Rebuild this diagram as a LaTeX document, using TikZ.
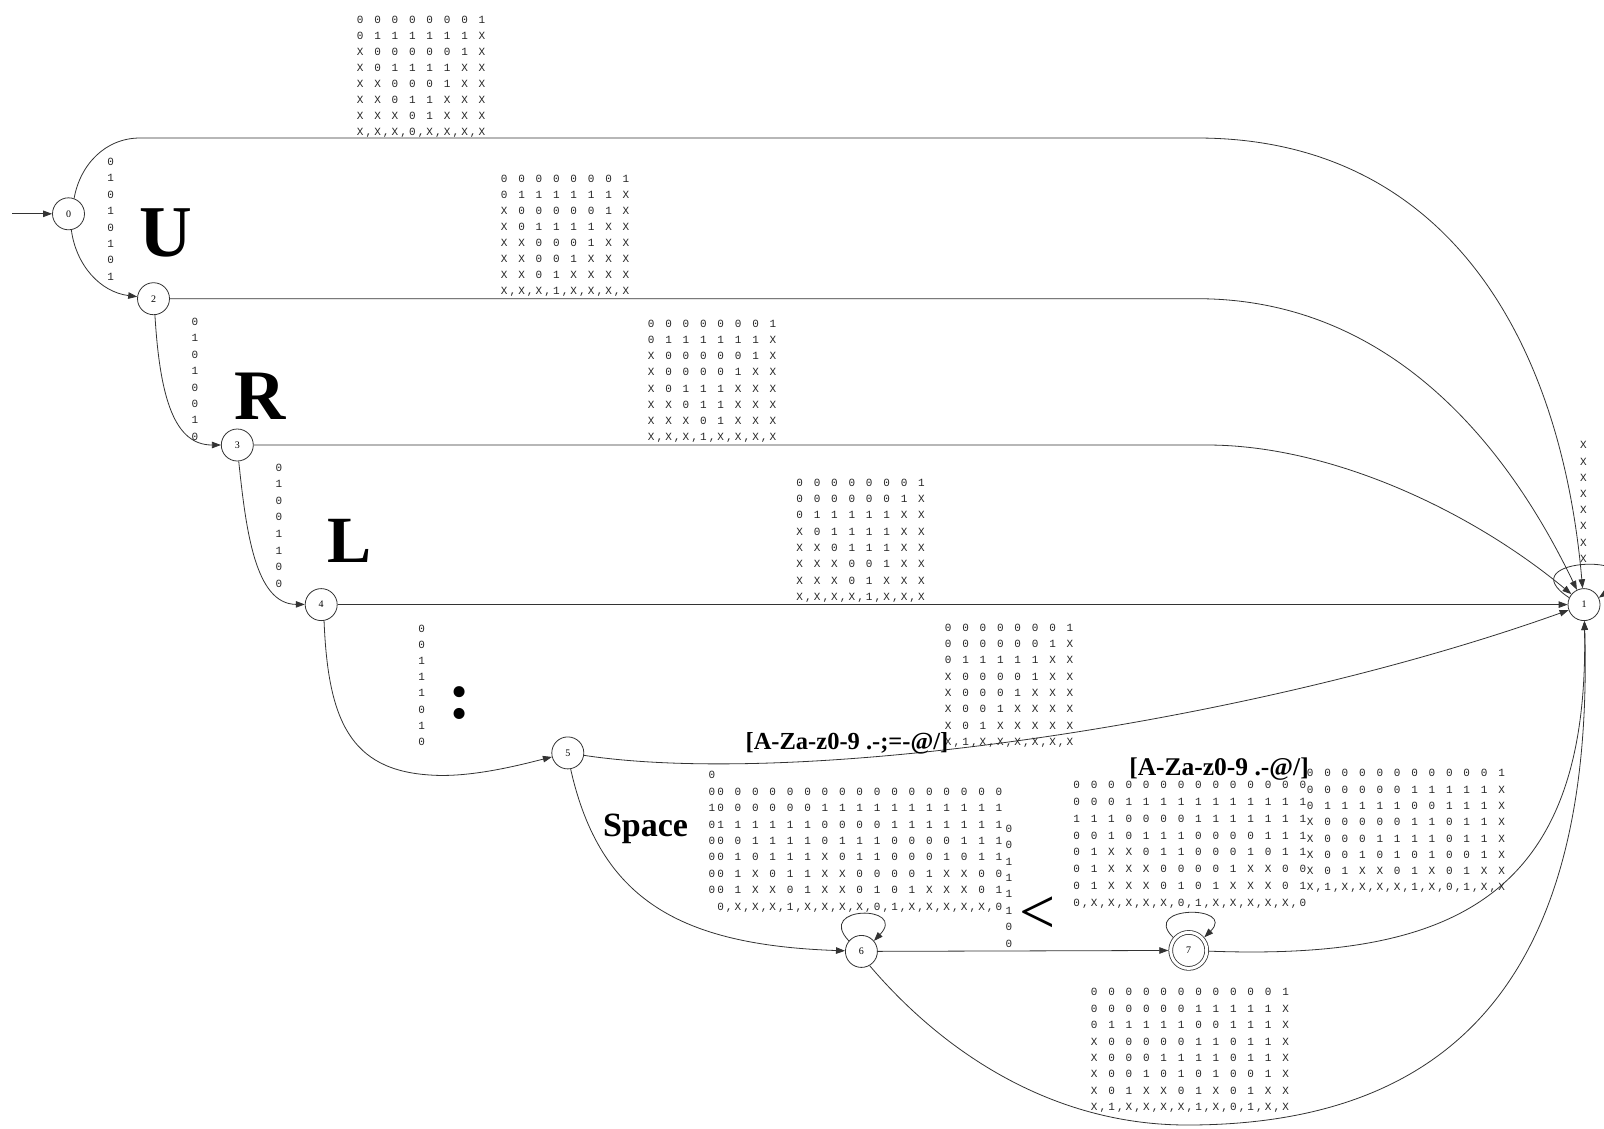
\documentclass[tikz,border=0pt]{standalone}
\usepackage{fontspec}
\setmainfont{Liberation Serif}
\newfontfamily\bitfont{Liberation Mono}
\usetikzlibrary{arrows.meta}

% one character cell of the bit tables
\newlength\bitcell
\setlength\bitcell{8.7pt}
\makeatletter
% spaced row: each symbol followed by an empty cell
\newcommand\brow[1]{\@tfor\bch:=#1\do{\makebox[\bitcell]{\bch}\hspace*{\bitcell}}}
% packed row: one symbol per cell
\newcommand\crow[1]{\@tfor\bch:=#1\do{\makebox[\bitcell]{\bch}}}
\makeatother
\newcommand\bittab[1]{\begin{tabular}[t]{@{}l@{}}#1\end{tabular}}
\newcommand\bitcol[1]{\begin{tabular}[t]{@{}c@{}}#1\end{tabular}}

\tikzset{
  state/.style={circle, draw=black!80, line width=0.8pt, minimum size=32pt,
    inner sep=0pt, font=\fontsize{10}{12}\selectfont},
  edge/.style={draw=black!80, line width=0.8pt,
    -{Triangle[length=9pt,width=6.5pt]}},
  bits/.style={inner sep=0pt, text=black!85,
    font=\bitfont\fontsize{11}{#1}\selectfont},
  big/.style={inner sep=0pt, font=\bfseries\fontsize{#1}{#1}\selectfont},
  plain/.style={inner sep=0pt, font=\fontsize{#1}{#1}\selectfont},
}

\begin{document}
\begin{tikzpicture}[x=1pt, y=-1pt]
\useasboundingbox (0,0) rectangle (1604,1128);
\fill[white] (0,0) rectangle (1604,1128);

% states
\node[state] (n0) at (68.5,213.8) {0};
\node[state] (n2) at (153.5,298.7) {2};
\node[state] (n3) at (237.3,445) {3};
\node[state] (n4) at (321.2,604.6) {4};
\node[state] (n5) at (567.8,752.9) {5};
\node[state] (n6) at (861.4,951.4) {6};
\node[state, double, double distance=3pt, minimum size=36pt, outer sep=2.4pt] (n7) at (1188.7,950.4) {7};
\node[state] (n1) at (1584,604.6) {1};
\coordinate (start) at (12,213.8);

% transitions
\draw[edge] (start) -- (n0);
\draw[edge] (n0.70) .. controls (80,165) and (105,138) .. (140,138) -- (1197,138)
  .. controls (1440,138) and (1560,330) .. (n1);
\draw[edge] (n0.-80) .. controls (76,265) and (100,292) .. (n2);
\draw[edge] (n2) -- (1197,298.7) .. controls (1380,298.7) and (1500,430) .. (n1);
\draw[edge] (n2.-85) .. controls (160,400) and (175,445) .. (n3);
\draw[edge] (n3) -- (1207,445) .. controls (1330,445) and (1470,510) .. (n1);
\draw[edge] (n3.-85) .. controls (246,530) and (255,604) .. (n4);
\draw[edge] (n4) -- (n1);
\draw[edge] (n4.-80) .. controls (328,720) and (350,770) .. (430,775)
  .. controls (470,778) and (520,765) .. (n5);
\draw[edge] (n5) .. controls (800,788) and (1250,724) .. (n1);
\draw[edge] (n5.-80) .. controls (600,900) and (680,945) .. (n6);
\draw[edge] (n6.140) .. controls (815,905) and (908,905) .. (n6.40);
\draw[edge] (n6) -- (n7);
\draw[edge] (n6.-60) .. controls (950,1060) and (1060,1125) .. (1187,1125)
  .. controls (1450,1125) and (1595,980) .. (n1);
\draw[edge] (n7.140) .. controls (1140,905) and (1237,905) .. (n7.40);
\draw[edge] (n7) .. controls (1450,960) and (1590,900) .. (n1);
\draw[edge] (n1.155) .. controls (1505,556) and (1665,552) .. (n1.25);

% bit-pattern labels
\node[bits=15.9, anchor=base west] (m01) at (355.65,23.8) {\bittab{%
\brow{00000001}\\ \brow{0111111X}\\ \brow{X000001X}\\ \brow{X01111XX}\\
\brow{XX0001XX}\\ \brow{XX011XXX}\\ \brow{XXX01XXX}\\ \crow{X,X,X,0,X,X,X,X}}};
\node[bits=16.0, anchor=base west] (m21) at (499.65,182.1) {\bittab{%
\brow{00000001}\\ \brow{0111111X}\\ \brow{X000001X}\\ \brow{X01111XX}\\
\brow{XX0001XX}\\ \brow{XX001XXX}\\ \brow{XX01XXXX}\\ \crow{X,X,X,1,X,X,X,X}}};
\node[bits=16.2, anchor=base west] (m31) at (646.65,327.3) {\bittab{%
\brow{00000001}\\ \brow{0111111X}\\ \brow{X000001X}\\ \brow{X00001XX}\\
\brow{X0111XXX}\\ \brow{XX011XXX}\\ \brow{XXX01XXX}\\ \crow{X,X,X,1,X,X,X,X}}};
\node[bits=16.3, anchor=base west] (m41) at (795.15,486.3) {\bittab{%
\brow{00000001}\\ \brow{0000001X}\\ \brow{011111XX}\\ \brow{X01111XX}\\
\brow{XX0111XX}\\ \brow{XXX001XX}\\ \brow{XXX01XXX}\\ \crow{X,X,X,X,1,X,X,X}}};
\node[bits=16.3, anchor=base west] (m51) at (943.65,631.3) {\bittab{%
\brow{00000001}\\ \brow{0000001X}\\ \brow{011111XX}\\ \brow{X00001XX}\\
\brow{X0001XXX}\\ \brow{X001XXXX}\\ \brow{X01XXXXX}\\ \crow{X,1,X,X,X,X,X,X}}};
\node[bits=16.4, anchor=base west] (m66) at (707.35,778.8) {\bittab{%
\crow{0}\\
\crow{0}\brow{00000000000000000}\\
\crow{1}\brow{00000011111111111}\\
\crow{0}\brow{11111100001111111}\\
\crow{0}\brow{00111101110000111}\\
\crow{0}\brow{010111X0110001011}\\
\crow{0}\brow{01X011XX00001XX00}\\
\crow{0}\brow{01XX01XX0101XXX01}\\
\hspace*{\bitcell}\crow{0,X,X,X,1,X,X,X,X,0,1,X,X,X,X,X,0}}};
\node[bits=16.9, anchor=base west] (m77) at (1072.15,788.3) {\bittab{%
\brow{00000000000000}\\ \brow{00011111111111}\\ \brow{11100001111111}\\
\brow{00101110000111}\\ \brow{01XX0110001011}\\ \brow{01XXX00001XX00}\\
\brow{01XXX0101XXX01}\\ \crow{0,X,X,X,X,X,0,1,X,X,X,X,X,0}}};
\node[bits=16.3, anchor=base west] (m71) at (1305.65,776.8) {\bittab{%
\brow{000000000001}\\ \brow{00000011111X}\\ \brow{01111100111X}\\
\brow{X0000011011X}\\ \brow{X0001111011X}\\ \brow{X0010101001X}\\
\brow{X01XX01X01XX}\\ \crow{X,1,X,X,X,X,1,X,0,1,X,X}}};
\node[bits=16.4, anchor=base west] (m61) at (1089.65,995.8) {\bittab{%
\brow{000000000001}\\ \brow{00000011111X}\\ \brow{01111100111X}\\
\brow{X0000011011X}\\ \brow{X0001111011X}\\ \brow{X0010101001X}\\
\brow{X01XX01X01XX}\\ \crow{X,1,X,X,X,X,1,X,0,1,X,X}}};

% single-column bit labels
\node[bits=16.4, anchor=base] (l02) at (110.7,165.5) {\bitcol{0\\1\\0\\1\\0\\1\\0\\1}};
\node[bits=16.4, anchor=base] (l23) at (195,325.5) {\bitcol{0\\1\\0\\1\\0\\0\\1\\0}};
\node[bits=16.6, anchor=base] (l34) at (279,471.1) {\bitcol{0\\1\\0\\0\\1\\1\\0\\0}};
\node[bits=16.2, anchor=base] (l45) at (421.7,632.1) {\bitcol{0\\0\\1\\1\\1\\0\\1\\0}};
\node[bits=16.4, anchor=base] (l67) at (1009,832.3) {\bitcol{0\\0\\1\\1\\1\\1\\0\\0}};
\node[bits=16.2, anchor=base] (l11) at (1583.5,448.8) {\bitcol{X\\X\\X\\X\\X\\X\\X\\X}};

% characters read by the automaton
\node[big=73] (tU) at (166,232.5) {U};
\node[big=71] (tR) at (260,396.5) {R};
\node[big=66] (tL) at (350,540.6) {L};
\node[big=68, anchor=base] (tC) at (460,718) {:};
\node[plain=64] (tLt) at (1038,915.6) {<};
\node[big=34, anchor=base] (tSp) at (645.5,836) {Space};
\node[big=24.5, anchor=base] (tCls1) at (847,749) {[A-Za-z0-9 .-;=-@/]};
\node[big=25.5, anchor=base] (tCls2) at (1219,775) {[A-Za-z0-9 .-@/]};
\end{tikzpicture}
\end{document}
